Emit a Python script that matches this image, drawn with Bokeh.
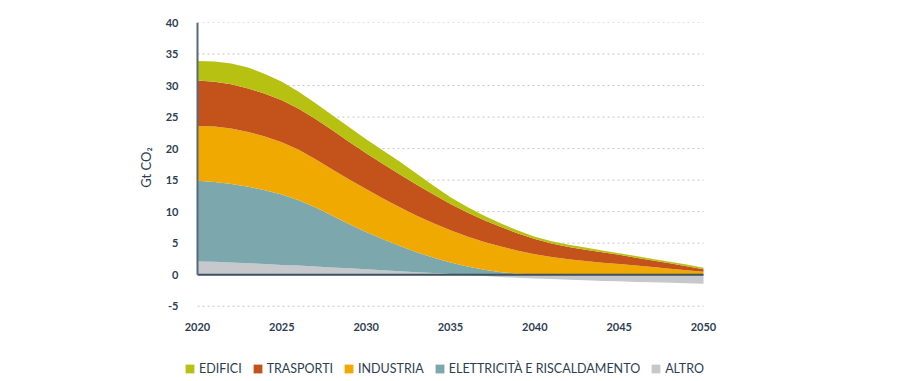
import numpy as np
from bokeh.plotting import figure
from bokeh.layouts import column
from bokeh.models import Range1d, Legend, LegendItem, FixedTicker
from bokeh.embed import file_html
from bokeh.resources import INLINE

years = list(range(2020, 2051))
altro = [2.1, 2.05, 1.95, 1.8, 1.7, 1.55, 1.45, 1.3, 1.15, 1.0, 0.85, 0.7, 0.55, 0.4, 0.25, 0.1,
         -0.05, -0.2, -0.35, -0.5, -0.6, -0.7, -0.8, -0.9, -1.0, -1.05, -1.15, -1.2, -1.3, -1.35, -1.45]
elettricita = [12.8, 12.65, 12.45, 12.15, 11.7, 11.15, 10.35, 9.35, 8.2, 7.0, 5.9, 4.9, 4.0, 3.15, 2.45, 1.85,
               1.3, 0.8, 0.4, 0.15, 0.05, 0.05, 0.05, 0.05, 0.05, 0.05, 0.05, 0.05, 0.05, 0.05, 0.05]
industria = [8.7, 8.8, 8.8, 8.7, 8.5, 8.3, 8.0, 7.65, 7.35, 7.1, 6.85, 6.5, 6.15, 5.8, 5.45, 5.1,
             4.75, 4.4, 4.05, 3.65, 3.2, 2.75, 2.4, 2.1, 1.85, 1.65, 1.4, 1.15, 0.9, 0.65, 0.4]
trasporti = [7.2, 7.1, 7.0, 6.9, 6.8, 6.65, 6.5, 6.4, 6.2, 5.95, 5.65, 5.45, 5.2, 4.9, 4.55, 4.15,
             3.8, 3.45, 3.1, 2.75, 2.4, 2.15, 1.95, 1.8, 1.65, 1.45, 1.25, 1.05, 0.85, 0.65, 0.42]
edifici = [3.1, 3.2, 3.3, 3.3, 3.15, 2.95, 2.7, 2.5, 2.4, 2.35, 2.25, 2.15, 2.0, 1.75, 1.4, 1.1,
           0.9, 0.7, 0.55, 0.45, 0.35, 0.35, 0.35, 0.35, 0.3, 0.25, 0.25, 0.25, 0.25, 0.25, 0.23]

labels = ["EDIFICI", "TRASPORTI", "INDUSTRIA", "ELETTRICITÀ E RISCALDAMENTO", "ALTRO"]
colors = ["#b7c112", "#c4531b", "#f0a900", "#7ba7ad", "#c6c8cc"]
y_ticks = [-5, 0, 5, 10, 15, 20, 25, 30, 35, 40]
x_ticks = [2020, 2025, 2030, 2035, 2040, 2045, 2050]

x = np.array(years, dtype=float)
alt = np.array(altro)
pos = np.clip(alt, 0, None)
neg = np.clip(alt, None, 0)
t1 = pos + np.array(elettricita)
t2 = t1 + np.array(industria)
t3 = t2 + np.array(trasporti)
t4 = t3 + np.array(edifici)
zero = np.zeros_like(x)

text_col = "#2d3e50"
FONT = "Lato"

# frame spans a little beyond the data so the legend row below can share its width
px_per_year = 16.87
x0 = x_ticks[0] - 13 / px_per_year
x1 = x_ticks[-1] + 1 / px_per_year

p = figure(width=884, height=345, output_backend="svg", toolbar_location=None,
           x_range=Range1d(x0, x1), y_range=Range1d(-6, 40),
           min_border_left=184, min_border_right=180, min_border_top=22, min_border_bottom=33)
p.outline_line_color = None
p.xgrid.visible = False
p.ygrid.visible = False

grid_vals = [v for v in y_ticks if v != 0]
p.segment(x0=[x_ticks[0]] * len(grid_vals), x1=[x_ticks[-1]] * len(grid_vals),
          y0=grid_vals, y1=grid_vals, line_color="#c4c4c4", line_dash="2 3", line_width=1)

p.varea(x=x, y1=zero, y2=pos, fill_color=colors[4])
p.varea(x=x, y1=neg, y2=zero, fill_color=colors[4])
for lo, hi, c in [(pos, t1, colors[3]), (t1, t2, colors[2]), (t2, t3, colors[1]), (t3, t4, colors[0])]:
    p.varea(x=x, y1=lo, y2=hi, fill_color=c)

# zero line and left axis line
p.segment(x0=[x_ticks[0]], x1=[x_ticks[-1]], y0=[0], y1=[0], line_color="#3e4f60", line_width=2)
p.segment(x0=[x_ticks[0]], x1=[x_ticks[0]], y0=[0], y1=[y_ticks[-1]], line_color="#56687a", line_width=2)

p.yaxis.ticker = FixedTicker(ticks=y_ticks)
p.yaxis.major_label_overrides = {-5: "-5"}
p.yaxis.axis_line_color = None
p.yaxis.major_tick_line_color = None
p.yaxis.minor_tick_line_color = None
p.yaxis.major_label_standoff = 0
p.yaxis.major_label_text_font = FONT
p.yaxis.major_label_text_font_style = "bold"
p.yaxis.major_label_text_font_size = "11px"
p.yaxis.major_label_text_color = text_col
p.yaxis.axis_label = "Gt CO₂"
p.yaxis.axis_label_text_font = FONT
p.yaxis.axis_label_text_font_style = "normal"
p.yaxis.axis_label_text_font_size = "13px"
p.yaxis.axis_label_text_color = text_col
p.yaxis.axis_label_standoff = 9

p.xaxis.ticker = FixedTicker(ticks=x_ticks)
p.xaxis.axis_line_color = None
p.xaxis.major_tick_line_color = None
p.xaxis.minor_tick_line_color = None
p.xaxis.major_label_standoff = 4
p.xaxis.major_label_text_font = FONT
p.xaxis.major_label_text_font_style = "bold"
p.xaxis.major_label_text_font_size = "11px"
p.xaxis.major_label_text_color = text_col

# legend row (its renderers lie outside the visible range; only swatches show)
lf = figure(width=884, height=32, output_backend="svg", toolbar_location=None,
            x_axis_type=None, y_axis_type=None, x_range=Range1d(0, 1), y_range=Range1d(100, 101),
            min_border_left=184, min_border_right=180, min_border_top=0, min_border_bottom=0)
lf.outline_line_color = None
lf.xgrid.visible = False
lf.ygrid.visible = False
items = []
for lab, c, lo, hi in zip(labels, colors, [t3, t2, t1, pos, zero], [t4, t3, t2, t1, pos]):
    r = lf.varea(x=x, y1=lo, y2=hi, fill_color=c)
    items.append(LegendItem(label=lab, renderers=[r]))

legend = Legend(items=items, orientation="horizontal", location=(0, 1))
legend.label_text_font = FONT
legend.label_text_font_size = "12.5px"
legend.label_text_color = text_col
legend.label_height = 12
legend.glyph_width = 11
legend.glyph_height = 11
legend.label_standoff = 4
legend.spacing = 10
legend.padding = 0
legend.margin = 0
legend.border_line_color = None
legend.background_fill_alpha = 0
lf.add_layout(legend, "center")

layout = column(p, lf)
open("out.html", "w").write(file_html(layout, INLINE))
